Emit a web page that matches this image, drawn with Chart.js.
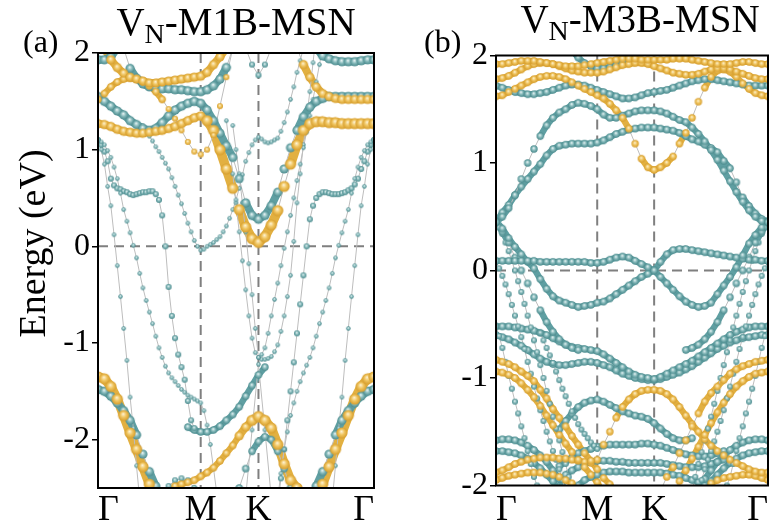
<!DOCTYPE html>
<html>
<head>
<meta charset="utf-8">
<script src="https://cdn.jsdelivr.net/npm/chart.js@4.4.0/dist/chart.umd.min.js"></script>
<style>
  body { margin: 0; background: #fff; }
  #wrap { position: relative; width: 773px; height: 531px; overflow: hidden; }
  canvas { position: absolute; top: 0; }
</style>
</head>
<body>
<div id="wrap">
  <canvas id="bandA" width="395" height="531" style="left:0"></canvas>
  <canvas id="bandB" width="378" height="531" style="left:395px"></canvas>
</div>
<script>
const _ = null;

// k-path: index of each high-symmetry point on the 44-point grid
const symIdx = [0, 16, 25, 43];
const symLabels = ['Γ', 'M', 'K', 'Γ'];
const yTicksA = [-2, -1, 0, 1, 2];
const yTicksB = [-2, -1, 0, 1, 2];
const titleA = ['V', 'N', '-M1B-MSN'];
const titleB = ['V', 'N', '-M3B-MSN'];
const yTitle = 'Energy (eV)';

// ---------- (a) V_N-M1B-MSN : energies (eV) along Γ-M-K-Γ ----------
// full-path bands (one value per grid index 0..43)
const aT0 = [
  1.93, 1.93, 1.96, 2.05, _, _, _, _, _, _, _,
  _, _, _, _, _, _, _, _, _, _, _,
  _, _, _, _, _, _, _, _, _, _, _,
  _, 2.05, 1.97, 1.94, 1.92, 1.91, 1.91, 1.91, 1.92, 1.93, 1.93
];
const aG0 = [
  _, 2.05, 1.93, 1.85, 1.79, 1.75, 1.73, 1.71, 1.69, 1.69, 1.7,
  1.71, 1.72, 1.73, 1.74, 1.75, 1.76, 1.8, 1.88, 1.96, 2.05, _,
  _, _, _, _, _, _, _, _, _, _, _,
  _, _, _, _, _, _, _, _, _, _, _
];
const aT1 = [
  _, _, _, _, 2.05, 1.84, 1.74, 1.68, 1.65, 1.64, 1.63,
  1.63, 1.62, 1.62, 1.61, 1.6, 1.6, 1.62, 1.66, 1.73, 1.85, 2.05,
  _, _, _, _, _, _, _, _, _, _, _,
  _, _, _, _, _, _, _, _, _, _, _
];
const aG3 = [
  1.52, 1.58, 1.65, 1.7, 1.73, 1.74, 1.73, 1.7, 1.66, 1.6, 1.52,
  1.42, 1.32, 1.2, 1.08, 0.98, 0.95, 1.0, 1.15, 1.45, 1.75, 2.05,
  _, _, _, _, _, _, _, _, _, 2.05, 1.88,
  1.75, 1.65, 1.58, 1.55, 1.53, 1.52, 1.52, 1.52, 1.52, 1.52, 1.52
];
const aG3w = [
  3, 3, 3, 3, 3, 3, 3, 3, 3, 3, 3,
  2, 2, 2, 2, 2, 2, 2, 2, 2, 2, 2,
  2, 2, 2, 2, 2, 2, 2, 2, 2, 4, 4,
  4, 4, 4, 4, 4, 4, 4, 4, 4, 4, 4
];
const aB2 = [
  1.55, 1.5, 1.45, 1.4, 1.36, 1.3, 1.26, 1.22, 1.2, 1.22, 1.28,
  1.35, 1.41, 1.45, 1.48, 1.5, 1.48, 1.41, 1.3, 1.17, 1.04, 0.92,
  0.7, 0.45, 0.32, 0.28, 0.32, 0.42, 0.56, 0.8, 1.02, 1.2, 1.34,
  1.44, 1.5, 1.53, 1.55, 1.55, 1.55, 1.55, 1.55, 1.55, 1.55, 1.55
];
const aB1 = [
  1.27, 1.26, 1.24, 1.21, 1.19, 1.18, 1.17, 1.17, 1.18, 1.19, 1.2,
  1.22, 1.24, 1.27, 1.3, 1.33, 1.35, 1.3, 1.2, 1.0, 0.8, 0.6,
  0.38, 0.2, 0.08, 0.04, 0.1, 0.22, 0.37, 0.62, 0.85, 1.05, 1.2,
  1.27, 1.29, 1.29, 1.28, 1.28, 1.27, 1.27, 1.27, 1.27, 1.27, 1.27
];
const aB1w = [
  4, 4, 4, 4, 4, 4, 4, 4, 4, 4, 4,
  4, 4, 4, 4, 4, 4, 5, 5, 5, 5, 5,
  5, 5, 5, 5, 5, 5, 5, 5, 5, 5, 5,
  5, 5, 5, 5, 5, 5, 5, 5, 5, 5, 5
];
const aB4 = [
  _, _, _, _, _, _, _, _, _, _, _,
  _, _, _, _, _, _, _, _, _, _, _,
  _, 2.05, 1.88, 1.77, 1.88, 2.05, _, _, _, _, _,
  _, _, _, _, _, _, _, _, _, _, _
];
const aV3 = [
  _, _, _, _, _, _, _, _, _, _, _,
  _, _, _, _, _, _, _, _, _, _, _,
  _, -2.6, -1.9, -1.22, -1.9, -2.6, _, _, _, _, _,
  _, _, _, _, _, _, _, _, _, _, _
];
const aB5 = [
  _, _, _, _, _, _, _, _, _, _, _,
  _, _, _, -1.87, -1.9, -1.92, -1.92, -1.9, -1.86, -1.8, -1.74,
  -1.66, -1.55, -1.44, -1.33, -1.25, _, _, _, _, _, _,
  _, _, _, _, _, _, _, _, _, _, _
];
const aA1 = [
  -1.35, -1.37, -1.45, -1.58, -1.75, -1.93, -2.1, -2.28, -2.46, -2.65, _,
  _, _, _, _, _, _, _, _, _, _, _,
  _, _, _, _, _, _, _, _, _, _, _,
  _, -2.65, -2.46, -2.28, -2.1, -1.93, -1.75, -1.58, -1.45, -1.37, -1.35
];
const aA2 = [
  -1.48, -1.5, -1.55, -1.62, -1.7, -1.8, -1.95, -2.15, -2.33, -2.48, -2.65,
  _, _, _, _, _, _, _, _, _, _, _,
  _, _, _, _, _, _, _, _, _, _, _,
  -2.65, -2.48, -2.33, -2.15, -1.95, -1.8, -1.7, -1.62, -1.55, -1.5, -1.48
];
const aGB = [
  _, _, _, _, _, _, _, _, _, _, _,
  -2.6, -2.48, -2.46, -2.44, -2.42, -2.38, -2.34, -2.29, -2.22, -2.14, -2.06,
  -1.96, -1.87, -1.8, -1.76, -1.8, -1.88, -2.05, -2.25, -2.42, -2.5, -2.65,
  _, _, _, _, _, _, _, _, _, _, _
];
const aGBw = [
  3, 3, 3, 3, 3, 3, 3, 3, 3, 3, 3,
  3, 3, 3, 3, 3, 3, 3, 3, 3, 3, 3,
  4, 4, 5, 5, 5, 5, 5, 5, 5, 5, 5,
  5, 5, 5, 5, 5, 5, 5, 5, 5, 5, 5
];
const aT5 = [
  _, _, _, _, _, _, _, _, _, _, _,
  _, _, _, _, _, _, _, _, _, _, -2.7,
  -2.5, -2.3, -2.12, -2.02, -1.97, -2.0, -2.12, -2.3, -2.5, -2.7, _,
  _, _, _, _, _, _, _, _, _, _, _
];
const aT6 = [
  _, _, _, _, _, _, _, _, _, _, -2.6,
  -2.48, -2.42, -2.4, -2.42, -2.5, -2.62, _, _, _, _, _,
  _, _, _, _, _, _, _, _, _, _, _,
  _, _, _, _, _, _, _, _, _, _, _
];

// thin dispersive bands, sampled every half grid step from a start index
const aS1L = [1.1, 1.0, 0.85, 0.62, 0.42, 0.12, -0.2, -0.52, -0.85, -1.18, -1.56, -1.88, -2.27, -2.62];      // from 0
const aS1R = [-2.62, -2.27, -1.88, -1.56, -1.18, -0.85, -0.52, -0.2, 0.12, 0.42, 0.62, 0.85, 1.0, 1.1];      // from 36.5
const aS2L = [
  1.1, 1.08, 1.05, 0.99, 0.92, 0.82, 0.7, 0.55, 0.38, 0.26,
  0.14, 0.01, -0.12, -0.28, -0.43, -0.56, -0.68, -0.8, -0.93, -1.05,
  -1.15, -1.24, -1.31, -1.36, -1.4, -1.44, -1.48, -1.51, -1.54, -1.56,
  -1.58, -1.6, -1.62, -1.7, -1.85, -2.05, -2.3, -2.55, -2.8
];                                                                                                             // from 0
const aS2R = [
  -2.6, -2.35, -2.1, -1.92, -1.75, -1.62, -1.5, -1.4, -1.31, -1.23,
  -1.15, -1.05, -0.93, -0.8, -0.68, -0.56, -0.43, -0.28, -0.12, 0.01,
  0.14, 0.26, 0.38, 0.55, 0.7, 0.82, 0.92, 0.99, 1.05, 1.08, 1.1
];                                                                                                             // from 28
const aS3L = [
  1.1, 1.05, 0.98, 0.88, 0.7, 0.63, 0.6, 0.59, 0.57, 0.56,
  0.54, 0.53, 0.54, 0.55, 0.56, 0.56, 0.57, 0.57, 0.54, 0.48,
  0.32, 0.0, -0.42, -0.72, -0.95, -1.12, -1.25, -1.38, -1.6, -1.8, -1.88
];                                                                                                             // from 0
const aS3R = [
  -2.7, -2.4, -2.1, -1.8, -1.5, -1.2, -0.9, -0.6, -0.3, 0.0,
  0.28, 0.42, 0.5, 0.54, 0.56, 0.56, 0.55, 0.54, 0.54, 0.54,
  0.55, 0.56, 0.58, 0.6, 0.64, 0.7, 0.8, 0.88, 0.98, 1.05, 1.1
];                                                                                                             // from 28
const aV1 = [
  1.3, 1.02, 0.75, 0.45, 0.15, -0.15, -0.45, -0.72, -0.95, -1.1,
  -1.15, -1.12, -1.05, -0.9, -0.72, -0.55, -0.38, -0.2, -0.02, 0.15,
  0.32, 0.5, 0.68, 0.85, 1.02, 1.18, 1.35, 1.52, 1.7, 1.88, 2.05
];                                                                                                             // from 20
const aV2 = [
  1.25, 1.0, 0.75, 0.45, 0.15, -0.18, -0.5, -0.85, -1.15, -1.17,
  -1.17, -1.16, -1.14, -1.09, -1.02, -0.88, -0.72, -0.52, -0.3, 0.05,
  0.45, 0.75, 1.05, 1.32, 1.6, 1.9, 2.2
];                                                                                                             // from 21
const aB3 = [
  1.25, 1.2, 1.14, 1.09, 1.03, 0.98, 0.92, 0.86, 0.8, 0.71,
  0.62, 0.53, 0.44, 0.34, 0.24, 0.15, 0.06, 0.0, -0.04, -0.03,
  0.0, 0.02, 0.04, 0.07, 0.1, 0.15, 0.21, 0.29, 0.38, 0.48,
  0.6, 0.74, 0.88, 0.97, 1.05, 1.1, 1.13, 1.11, 1.08, 1.07,
  1.08, 1.1, 1.12, 1.19, 1.28, 1.39, 1.52, 1.65, 1.8, 1.92, 2.05
];                                                                                                             // from 7

// ---------- (b) V_N-M3B-MSN ----------
const bGT1 = [
  1.92, 1.92, 1.93, 1.94, 1.95, 1.95, 1.95, 1.94, 1.93, 1.92, 1.91,
  1.9, 1.9, 1.9, 1.91, 1.92, 1.93, 1.94, 1.95, 1.96, 1.97, 1.97,
  1.97, 1.96, 1.96, 1.96, 1.96, 1.96, 1.97, 1.97, 1.97, 1.96, 1.95,
  1.94, 1.93, 1.92, 1.92, 1.92, 1.93, 1.94, 1.94, 1.93, 1.92, 1.92
];
const bGT3 = [
  1.78, 1.79, 1.81, 1.84, 1.87, 1.9, 1.92, 1.93, 1.93, 1.92, 1.9,
  1.88, 1.86, 1.85, 1.84, 1.84, 1.84, 1.85, 1.87, 1.89, 1.91, 1.92,
  1.93, 1.93, 1.92, 1.9, 1.88, 1.86, 1.84, 1.83, 1.82, 1.82, 1.83,
  1.85, 1.87, 1.88, 1.88, 1.87, 1.85, 1.83, 1.81, 1.79, 1.78, 1.78
];
const bGV = [
  1.62, 1.63, 1.66, 1.69, 1.72, 1.75, 1.78, 1.8, 1.81, 1.81, 1.8,
  1.78, 1.75, 1.72, 1.69, 1.66, 1.63, 1.6, 1.55, 1.49, 1.42, 1.32,
  1.18, 1.04, 0.96, 0.935, 0.96, 1.0, 1.06, 1.18, 1.28, 1.42, 1.57,
  1.7, 1.8, 1.86, 1.87, 1.85, 1.8, 1.74, 1.69, 1.65, 1.63, 1.62
];
const bTB4 = [
  _, _, _, _, _, _, _, _, _, _, _,
  _, 2.05, 1.98, 1.93, 1.9, 1.88, 1.88, 1.89, 1.91, 1.94, 1.98,
  2.05, _, _, _, _, _, _, _, _, _, _,
  _, _, _, _, _, _, _, _, _, _, _
];
const bTB3 = [
  1.72, 1.7, 1.68, 1.66, 1.65, 1.64, 1.64, 1.65, 1.66, 1.68, 1.7,
  1.72, 1.73, 1.73, 1.72, 1.7, 1.68, 1.66, 1.64, 1.62, 1.6, 1.6,
  1.61, 1.63, 1.65, 1.66, 1.67, 1.68, 1.7, 1.72, 1.74, 1.76, 1.77,
  1.78, 1.78, 1.77, 1.76, 1.75, 1.74, 1.73, 1.72, 1.72, 1.72, 1.72
];
const bTB2 = [
  0.45, 0.5, 0.58, 0.7, 0.85, 1.0, 1.13, 1.25, 1.35, 1.42, 1.47,
  1.5, 1.54, 1.56, 1.55, 1.53, 1.5, 1.45, 1.42, 1.42, 1.44, 1.46,
  1.48, 1.49, 1.49, 1.49, 1.48, 1.46, 1.43, 1.4, 1.38, 1.33, 1.27,
  1.2, 1.12, 1.03, 0.93, 0.83, 0.73, 0.64, 0.56, 0.5, 0.46, 0.45
];
const bTB1 = [
  0.45, 0.54, 0.61, 0.7, 0.78, 0.85, 0.92, 0.99, 1.07, 1.13, 1.16,
  1.17, 1.18, 1.18, 1.18, 1.18, 1.19, 1.21, 1.24, 1.27, 1.29, 1.31,
  1.32, 1.33, 1.33, 1.33, 1.32, 1.31, 1.3, 1.28, 1.25, 1.22, 1.2,
  1.17, 1.14, 1.1, 1.02, 0.95, 0.82, 0.68, 0.6, 0.53, 0.48, 0.45
];
const bBU = [
  0.09, 0.09, 0.09, 0.09, 0.09, 0.09, 0.09, 0.08, 0.08, 0.08, 0.08,
  0.08, 0.08, 0.08, 0.08, 0.07, 0.07, 0.08, 0.1, 0.12, 0.13, 0.12,
  0.09, 0.06, 0.03, 0.0, -0.06, -0.12, -0.18, -0.24, -0.29, -0.32, -0.34,
  -0.33, -0.3, -0.22, -0.14, -0.06, 0.03, 0.14, 0.25, 0.33, 0.4, 0.46
];
const bBD = [
  0.46, 0.39, 0.3, 0.22, 0.15, 0.08, 0.02, -0.08, -0.17, -0.24, -0.28,
  -0.3, -0.32, -0.34, -0.33, -0.32, -0.3, -0.29, -0.26, -0.22, -0.18, -0.14,
  -0.1, -0.06, -0.03, 0.0, 0.08, 0.15, 0.19, 0.2, 0.2, 0.19, 0.18,
  0.17, 0.16, 0.15, 0.14, 0.13, 0.12, 0.11, 0.1, 0.1, 0.09, 0.09
];
const bSB1 = [
  0.45, 0.36, 0.26, 0.12, 0.0, -0.12, -0.25, -0.37, -0.48, -0.57, -0.64,
  -0.69, -0.72, -0.74, _, _, _, _, _, _, _, _,
  _, _, _, _, _, _, _, _, -0.74, -0.72, -0.69,
  -0.64, -0.57, -0.48, -0.37, -0.25, -0.12, 0.0, 0.12, 0.26, 0.36, 0.45
];
const bTL1 = [
  -0.52, -0.52, -0.52, -0.53, -0.54, -0.55, -0.56, -0.58, -0.6, -0.63, -0.66,
  -0.69, -0.71, -0.72, -0.73, -0.74, -0.75, -0.78, -0.82, -0.86, -0.9, -0.94,
  -0.97, -0.99, -1.0, -1.01, -0.99, -0.96, -0.93, -0.9, -0.87, -0.84, -0.8,
  -0.76, -0.72, -0.68, -0.64, -0.6, -0.57, -0.55, -0.53, -0.52, -0.52, -0.52
];
const bTL2 = [
  -0.6, -0.62, -0.64, -0.67, -0.7, -0.74, -0.78, -0.82, -0.85, -0.87, -0.88,
  -0.88, -0.87, -0.86, -0.85, -0.85, -0.86, -0.88, -0.9, -0.93, -0.96, -0.98,
  -1.0, -1.01, -1.02, -1.02, -1.01, -0.99, -0.97, -0.95, -0.92, -0.89, -0.85,
  -0.81, -0.77, -0.73, -0.7, -0.67, -0.65, -0.63, -0.62, -0.61, -0.6, -0.6
];
const bTX = [
  _, _, _, _, _, _, _, _, _, _, -1.48,
  -1.4, -1.33, -1.27, -1.23, -1.21, -1.2, -1.22, -1.25, -1.28, -1.31, -1.33,
  -1.35, -1.36, -1.38, -1.42, -1.47, -1.52, -1.56, -1.58, -1.58, -1.56, _,
  _, _, _, _, _, _, _, _, _, _, _
];
const bGL1 = [
  -0.83, -0.85, -0.87, -0.9, -0.94, -0.98, -1.03, -1.11, -1.19, -1.29, -1.37,
  -1.45, -1.54, -1.62, -1.7, -1.77, -1.85, -1.93, -1.99, -2.08, _, _,
  _, _, _, _, -2.05, -1.92, -1.83, -1.7, -1.58, -1.45, -1.33,
  -1.22, -1.14, -1.08, -1.02, -0.96, -0.92, -0.89, -0.87, -0.85, -0.84, -0.83
];
const bGL2 = [
  -0.94, -0.95, -0.97, -1.0, -1.05, -1.11, -1.18, -1.26, -1.35, -1.44, -1.53,
  -1.61, -1.69, -1.76, -1.83, -1.9, -1.97, -2.08, _, _, _, _,
  _, _, _, _, _, _, -2.08, -1.96, -1.86, -1.75, -1.64,
  -1.53, -1.42, -1.32, -1.23, -1.15, -1.08, -1.03, -0.99, -0.96, -0.95, -0.94
];
const bGH = [
  -1.88, -1.86, -1.83, -1.8, -1.78, -1.76, -1.75, -1.74, -1.74, -1.74, -1.75,
  -1.75, -1.76, -1.77, -1.78, -1.79, -1.76, -1.62, -1.5, -1.37, -1.27, -1.2,
  -1.15, -1.12, -1.11, -1.11, -1.12, -1.15, -1.2, -1.27, -1.35, -1.43, -1.5,
  -1.57, -1.63, -1.68, -1.72, -1.76, -1.79, -1.82, -1.85, -1.87, -1.88, -1.88
];
const bGB = [
  -1.95, -1.93, -1.91, -1.9, -1.89, -1.88, -1.88, -1.88, -1.89, -1.9, -1.92,
  -1.95, -1.98, -2.05, _, _, _, _, _, _, _, _,
  _, _, _, _, _, _, _, _, _, _, _,
  -2.05, -1.98, -1.95, -1.93, -1.92, -1.91, -1.9, -1.9, -1.91, -1.93, -1.95
];
const bTlow1 = [
  -1.58, -1.57, -1.57, -1.58, -1.6, -1.63, -1.67, -1.72, -1.78, -1.86, -1.94,
  -2.05, _, _, _, _, _, _, _, _, _, _,
  _, _, _, _, _, _, _, _, _, _, -2.05,
  -1.94, -1.86, -1.78, -1.72, -1.67, -1.63, -1.6, -1.58, -1.57, -1.57, -1.58
];
const bTlow2 = [
  -1.68, -1.68, -1.69, -1.7, -1.72, -1.75, -1.79, -1.84, -1.9, -1.96, -2.05,
  _, _, _, _, _, _, _, _, _, _, _,
  _, _, _, _, _, _, _, _, _, _, _,
  -2.05, -1.96, -1.9, -1.84, -1.79, -1.75, -1.72, -1.7, -1.69, -1.68, -1.68
];
const bTM1 = [
  _, _, _, _, _, _, _, _, _, _, -1.82,
  -1.78, -1.74, -1.7, -1.68, -1.66, -1.64, -1.63, -1.62, -1.62, -1.62, -1.62,
  -1.62, -1.61, -1.61, -1.62, -1.63, -1.65, -1.67, -1.69, -1.71, -1.72, -1.73,
  -1.73, -1.72, -1.7, -1.68, _, _, _, _, _, _, _
];
const bTM2 = [
  _, _, _, _, _, _, _, _, _, _, _,
  -1.9, -1.86, -1.83, -1.8, -1.78, -1.77, -1.77, -1.77, -1.78, -1.78, -1.79,
  -1.79, -1.79, -1.79, -1.79, -1.79, -1.8, -1.81, -1.82, -1.83, -1.83, -1.83,
  -1.82, -1.8, -1.78, -1.76, _, _, _, _, _, _, _
];
const bTM3 = [
  _, _, _, _, _, _, _, _, _, _, _,
  _, _, -2.0, -1.95, -1.92, -1.9, -1.88, -1.87, -1.87, -1.87, -1.88,
  -1.88, -1.88, -1.88, -1.88, -1.88, -1.89, -1.9, -1.91, -1.93, -1.95, -1.97,
  -2.0, _, _, _, _, _, _, _, _, _, _
];

// thin dispersive bands (b), half grid step
const bSB2L = [
  0.45, 0.4, 0.34, 0.26, 0.18, 0.09, 0.0, -0.1, -0.2, -0.31,
  -0.42, -0.53, -0.65, -0.76, -0.88, -1.0, -1.12, -1.24, -1.36, -1.47,
  -1.58, -1.69, -1.8, -1.92, -2.05
];                                                                                                             // from 0
const bSB2R = [
  -2.05, -1.92, -1.8, -1.69, -1.58, -1.47, -1.36, -1.24, -1.12, -1.0,
  -0.88, -0.76, -0.65, -0.53, -0.42, -0.31, -0.2, -0.1, 0.0, 0.09,
  0.18, 0.26, 0.34, 0.4, 0.45
];                                                                                                             // from 31
const bSB3L = [
  0.08, 0.02, -0.05, -0.13, -0.22, -0.32, -0.42, -0.52, -0.62, -0.73,
  -0.85, -0.96, -1.08, -1.19, -1.3, -1.4, -1.5, -1.59, -1.68, -1.76,
  -1.85, -1.95, -2.05
];                                                                                                             // from 0
const bSB3R = [
  -2.05, -1.95, -1.85, -1.76, -1.68, -1.59, -1.5, -1.4, -1.3, -1.19,
  -1.08, -0.96, -0.85, -0.73, -0.62, -0.52, -0.42, -0.32, -0.22, -0.13,
  -0.05, 0.02, 0.08
];                                                                                                             // from 32
const bSB4L = [-0.52, -0.61, -0.72, -0.85, -0.98, -1.1, -1.22, -1.33, -1.45, -1.56, -1.68, -1.8, -1.92, -2.0, -2.1];  // from 0
const bSB4R = [-2.1, -2.0, -1.92, -1.8, -1.68, -1.56, -1.45, -1.33, -1.22, -1.1, -0.98, -0.85, -0.72, -0.61, -0.52];  // from 36
const bSB5 = [
  -0.58, -0.65, -0.72, -0.79, -0.86, -0.94, -1.02, -1.1, -1.17, -1.24,
  -1.31, -1.37, -1.43, -1.48, -1.52, -1.56, -1.6, -1.63, -1.66
];                                                                                                             // from 7

// band tables: energies, projection colour, dot weight (number or per-point list),
// optional start index x0 and grid step dx
const bandsA = [
  { e: aT0, c: 'teal', w: 4 }, { e: aT1, c: 'teal', w: 4 }, { e: aB2, c: 'teal', w: 4 },
  { e: aB4, c: 'teal', w: 2 }, { e: aB3, c: 'teal', w: 1, x0: 7, dx: 0.5 },
  { e: aS1L, c: 'teal', w: 1, x0: 0, dx: 0.5 }, { e: aS1R, c: 'teal', w: 1, x0: 36.5, dx: 0.5 },
  { e: aS2L, c: 'teal', w: 1, x0: 0, dx: 0.5 }, { e: aS2R, c: 'teal', w: 1, x0: 28, dx: 0.5 },
  { e: aS3L, c: 'teal', w: 2, x0: 0, dx: 0.5 }, { e: aS3R, c: 'teal', w: 2, x0: 28, dx: 0.5 },
  { e: aV1, c: 'teal', w: 1, x0: 20, dx: 0.5 }, { e: aV2, c: 'teal', w: 1, x0: 21, dx: 0.5 },
  { e: aV3, c: 'teal', w: 1 }, { e: aB5, c: 'teal', w: 3 },
  { e: aA2, c: 'teal', w: 4 }, { e: aT5, c: 'teal', w: 3 }, { e: aT6, c: 'teal', w: 2 },
  { e: aG0, c: 'gold', w: 4 }, { e: aG3, c: 'gold', w: aG3w }, { e: aB1, c: 'gold', w: aB1w },
  { e: aA1, c: 'gold', w: 5 }, { e: aGB, c: 'gold', w: aGBw }
];
const bandsB = [
  { e: bTB4, c: 'teal', w: 3 }, { e: bTB3, c: 'teal', w: 3 }, { e: bTB2, c: 'teal', w: 3 },
  { e: bTB1, c: 'teal', w: 3 }, { e: bBU, c: 'teal', w: 3 }, { e: bBD, c: 'teal', w: 3 },
  { e: bSB1, c: 'teal', w: 3 },
  { e: bSB2L, c: 'teal', w: 2, x0: 0, dx: 0.5 }, { e: bSB2R, c: 'teal', w: 2, x0: 31, dx: 0.5 },
  { e: bSB3L, c: 'teal', w: 2, x0: 0, dx: 0.5 }, { e: bSB3R, c: 'teal', w: 2, x0: 32, dx: 0.5 },
  { e: bSB4L, c: 'teal', w: 2, x0: 0, dx: 0.5 }, { e: bSB4R, c: 'teal', w: 2, x0: 36, dx: 0.5 },
  { e: bSB5, c: 'teal', w: 2, x0: 7, dx: 0.5 },
  { e: bTL1, c: 'teal', w: 3 }, { e: bTL2, c: 'teal', w: 3 }, { e: bTX, c: 'teal', w: 3 },
  { e: bTlow1, c: 'teal', w: 3 }, { e: bTlow2, c: 'teal', w: 3 }, { e: bTM1, c: 'teal', w: 3 },
  { e: bTM2, c: 'teal', w: 3 }, { e: bTM3, c: 'teal', w: 3 },
  { e: bGT1, c: 'gold', w: 3 }, { e: bGT3, c: 'gold', w: 3 }, { e: bGV, c: 'gold', w: 3 },
  { e: bGL1, c: 'gold', w: 3 }, { e: bGL2, c: 'gold', w: 3 }, { e: bGH, c: 'gold', w: 3 },
  { e: bGB, c: 'gold', w: 3 }
];

// ================= DOT SPRITES =================
const serif = '"Liberation Serif", "Times New Roman", serif';
const palette = {
  teal: ['#f3fafa', '#86babb', '#4b8a8d'],
  gold: ['#fff6dc', '#f0c560', '#d59c2b']
};
const tubeColor = { teal: '#5f9fa2', gold: '#e2b041' };
const radiusOf = [0, 2.2, 3, 3.7, 4.6, 5.6];
const spriteCache = {};

function sprite(color, w) {
  const key = color + w;
  if (spriteCache[key]) return spriteCache[key];
  const r = radiusOf[w];
  const size = Math.ceil(2 * r + 2);
  const cv = document.createElement('canvas');
  cv.width = cv.height = size;
  const g = cv.getContext('2d');
  const m = size / 2;
  const [hi, mid, lo] = palette[color];
  const grad = g.createRadialGradient(m - r * 0.1, m - r * 0.3, 0, m, m, r);
  grad.addColorStop(0, hi);
  grad.addColorStop(0.5, mid);
  grad.addColorStop(1, lo);
  g.fillStyle = grad;
  g.beginPath();
  g.arc(m, m, r, 0, Math.PI * 2);
  g.fill();
  spriteCache[key] = cv;
  return cv;
}

const wAt = (w, i) => Array.isArray(w) ? w[i] : w;

// a fat band between close neighbours reads as one continuous tube
function tubeRadius(b, s) {
  const w = Math.min(wAt(b.w, s.p0DataIndex), wAt(b.w, s.p1DataIndex));
  if (w < 3) return 0;
  const r = radiusOf[w];
  const len = Math.hypot(s.p1.x - s.p0.x, s.p1.y - s.p0.y);
  return len < 3.8 * r ? r : 0;
}

function buildDatasets(bands) {
  const sets = [];
  bands.forEach(b => {
    const x0 = b.x0 || 0, dx = b.dx || 1;
    const pts = () => b.e.map((v, i) => ({ x: x0 + i * dx, y: v }));
    sets.push({
      data: pts(),
      order: 3, showLine: true, borderColor: '#bdbdbd', borderWidth: 1,
      borderCapStyle: 'round', borderJoinStyle: 'round',
      pointRadius: 0, pointHoverRadius: 0, clip: 0,
      segment: {
        borderColor: s => tubeRadius(b, s) ? tubeColor[b.c] : '#bdbdbd',
        borderWidth: s => { const r = tubeRadius(b, s); return r ? 1.7 * r : 1; }
      }
    });
    sets.push({
      data: pts(),
      order: b.c === 'gold' ? 1 : 2, showLine: false, clip: 0,
      pointRadius: c => radiusOf[wAt(b.w, c.dataIndex)],
      pointStyle: c => sprite(b.c, wAt(b.w, c.dataIndex))
    });
  });
  return sets;
}

// ================= DECORATION =================
const decorPlugin = {
  id: 'decor',
  beforeDatasetsDraw(chart) {
    const { ctx, chartArea: a, scales: { x, y } } = chart;
    ctx.save();
    ctx.strokeStyle = '#7f7f7f';
    ctx.lineWidth = 2;
    ctx.setLineDash([10, 6]);
    ctx.beginPath();
    [symIdx[1], symIdx[2]].forEach(k => {
      const px = x.getPixelForValue(k);
      ctx.moveTo(px, a.top);
      ctx.lineTo(px, a.bottom);
    });
    const py = y.getPixelForValue(0);
    ctx.moveTo(a.left, py);
    ctx.lineTo(a.right, py);
    ctx.stroke();
    ctx.restore();
  },
  afterDraw(chart, args, o) {
    const { ctx, chartArea: a } = chart;
    ctx.save();
    ctx.strokeStyle = '#000';
    ctx.lineWidth = 2;
    ctx.strokeRect(a.left, a.top, a.right - a.left, a.bottom - a.top);

    ctx.fillStyle = '#000';
    ctx.textAlign = 'left';
    ctx.textBaseline = 'alphabetic';
    ctx.font = '32px ' + serif;
    ctx.fillText(o.letter, o.letterX, o.letterY);

    // title with subscript N
    const [main, sub, rest] = o.title;
    const big = '39px ' + serif, small = '28px ' + serif;
    ctx.font = big;
    const w1 = ctx.measureText(main).width, w3 = ctx.measureText(rest).width;
    ctx.font = small;
    const w2 = ctx.measureText(sub).width;
    let tx = o.titleX - (w1 + w2 + w3) / 2;
    ctx.font = big; ctx.fillText(main, tx, o.titleY); tx += w1;
    ctx.font = small; ctx.fillText(sub, tx, o.titleY + 8); tx += w2;
    ctx.font = big; ctx.fillText(rest, tx, o.titleY);

    if (o.yLabel) {
      ctx.translate(o.yLabelX, o.yLabelY);
      ctx.rotate(-Math.PI / 2);
      ctx.textAlign = 'center';
      ctx.font = '38px ' + serif;
      ctx.fillText(o.yLabel, 0, 0);
    }
    ctx.restore();
  }
};

// ================= CHARTS =================
function makeChart(id, bands, p) {
  return new Chart(document.getElementById(id), {
    type: 'line',
    data: { datasets: buildDatasets(bands) },
    options: {
      responsive: false,
      animation: false,
      events: [],
      layout: { padding: { top: p.top, right: p.right, left: 0, bottom: 0 } },
      plugins: { legend: { display: false }, tooltip: { enabled: false }, decor: p.decor },
      scales: {
        x: {
          type: 'linear', min: 0, max: 43,
          grid: { display: false, drawTicks: false },
          border: { display: false },
          afterBuildTicks: s => { s.ticks = symIdx.map(v => ({ value: v })); },
          afterFit: s => { s.height = p.xh; },
          ticks: {
            autoSkip: false, maxRotation: 0, align: 'inner', padding: p.xpad,
            color: '#000', font: { family: serif, size: 36 },
            callback: (v, i) => symLabels[i]
          }
        },
        y: {
          min: p.ymin, max: 2,
          afterBuildTicks: s => { s.ticks = p.yTicks.map(v => ({ value: v })); },
          afterFit: s => { s.width = p.left; },
          grid: { display: true, drawOnChartArea: false, drawTicks: true, tickLength: 6, color: '#000', lineWidth: 1.5 },
          border: { display: false },
          ticks: { padding: 2, color: '#000', font: { family: serif, size: 32 }, callback: v => String(v) }
        }
      }
    },
    plugins: [decorPlugin]
  });
}

makeChart('bandA', bandsA, {
  ymin: -2.5, yTicks: yTicksA, left: 98, top: 53, right: 21, xh: 43, xpad: 1,
  decor: { title: titleA, titleX: 236, titleY: 35, letter: '(a)', letterX: 23, letterY: 52,
           yLabel: yTitle, yLabelX: 45, yLabelY: 243.5 }
});
makeChart('bandB', bandsB, {
  ymin: -2, yTicks: yTicksB, left: 101, top: 55.5, right: 4, xh: 45.5, xpad: 3,
  decor: { title: titleB, titleX: 245, titleY: 32, letter: '(b)', letterX: 29, letterY: 52 }
});
</script>
</body>
</html>
